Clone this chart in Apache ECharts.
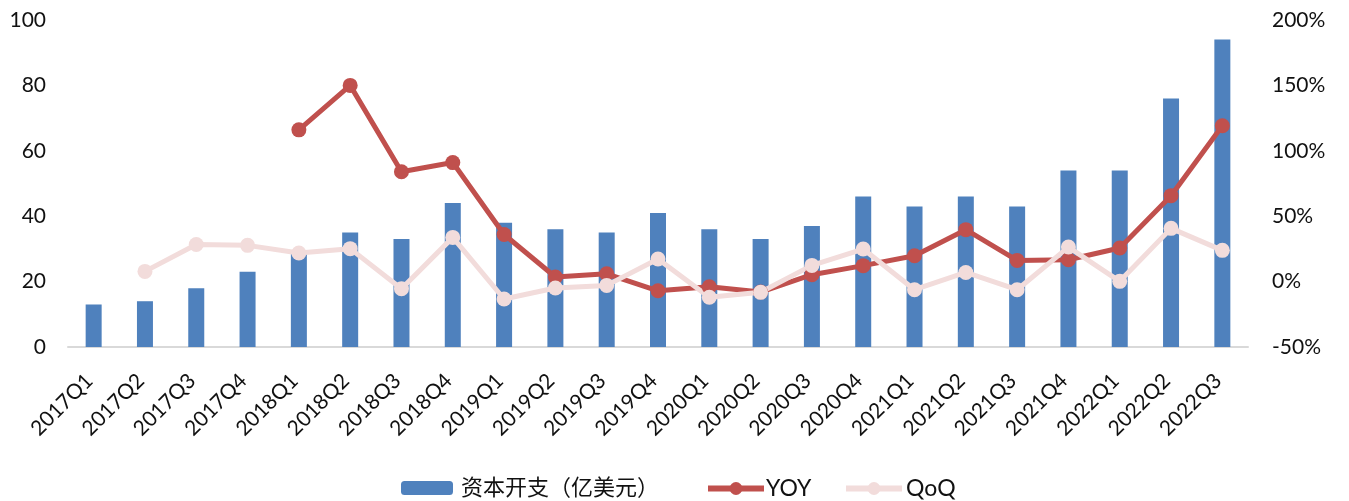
<!DOCTYPE html>
<html><head><meta charset="utf-8">
<script src="https://cdn.jsdelivr.net/npm/echarts@6/dist/echarts.min.js"></script>
<style>html,body{margin:0;padding:0;background:#fff}#c{width:1349px;height:501px}</style>
</head><body><div id="c"></div>
<script>
const categories = ['2017Q1','2017Q2','2017Q3','2017Q4','2018Q1','2018Q2','2018Q3','2018Q4','2019Q1','2019Q2','2019Q3','2019Q4','2020Q1','2020Q2','2020Q3','2020Q4','2021Q1','2021Q2','2021Q3','2021Q4','2022Q1','2022Q2','2022Q3'];
const capex = [13,14,18,23,29,35,33,44,38,36,35,41,36,33,37,46,43,46,43,54,54,76,94];
const yoy = [null,null,null,null,116,150,84,91,36,3.5,6,-7,-4,-8,5.3,12.2,19.8,39.7,16.2,16.7,25.7,65.7,119.2];
const qoq = [null,7.8,28.4,27.7,21.9,25.2,-5.4,33.8,-13.3,-4.9,-2.9,17.3,-12,-8.2,12.4,24.9,-6.2,7,-6.2,26.4,0.2,40.7,23.9];
const leftTicks = {min:0,max:100,interval:20};
const rightTicks = {min:-50,max:200,interval:50};
const names = ['资本开支（亿美元）','YOY','QoQ'];

const chart = echarts.init(document.getElementById('c'));
const latin = 'Lato, "Noto Sans CJK SC", sans-serif';
const lg = (name, left, w, h, fs, pad) => ({
  data:[name], left:left, top:472, itemWidth:w, itemHeight:h, itemGap:0,
  textStyle:{fontFamily:latin, fontSize:fs, color:'#111', padding:[0,0,0,pad]},
  lineStyle:{width:6}, selectedMode:false
});
chart.setOption({
  animation:false,
  color:['#4F81BD','#C0504D','#F2DCDB'],
  grid:{left:68,right:101,top:20,bottom:154},
  legend:[lg(names[0],396,52,14,22,3), lg(names[1],700,56,16,23,-3), lg(names[2],838,56,16,23,-1)],
  xAxis:{type:'category',data:categories,
    axisLine:{lineStyle:{color:'#D9D9D9',width:2}},axisTick:{show:false},
    axisLabel:{rotate:45,interval:0,fontFamily:latin,fontSize:21,color:'#111',margin:26,padding:[0,6,0,0]}},
  yAxis:[
    {type:'value',min:leftTicks.min,max:leftTicks.max,interval:leftTicks.interval,
     splitLine:{show:false},axisLine:{show:false},axisTick:{show:false},
     axisLabel:{fontFamily:latin,fontSize:21,color:'#111',margin:22}},
    {type:'value',min:rightTicks.min,max:rightTicks.max,interval:rightTicks.interval,
     splitLine:{show:false},axisLine:{show:false},axisTick:{show:false},
     axisLabel:{fontFamily:latin,fontSize:21,color:'#111',margin:24,formatter:'{value}%'}}
  ],
  series:[
    {name:names[0],type:'bar',data:capex,barWidth:16,itemStyle:{color:'#4F81BD'}},
    {name:names[1],type:'line',yAxisIndex:1,data:yoy,symbol:'circle',symbolSize:15,
     lineStyle:{width:5,color:'#C0504D'},itemStyle:{color:'#C0504D'}},
    {name:names[2],type:'line',yAxisIndex:1,data:qoq,symbol:'circle',symbolSize:15,
     lineStyle:{width:5,color:'#F2DCDB'},itemStyle:{color:'#F2DCDB'}}
  ]
});
</script></body></html>
